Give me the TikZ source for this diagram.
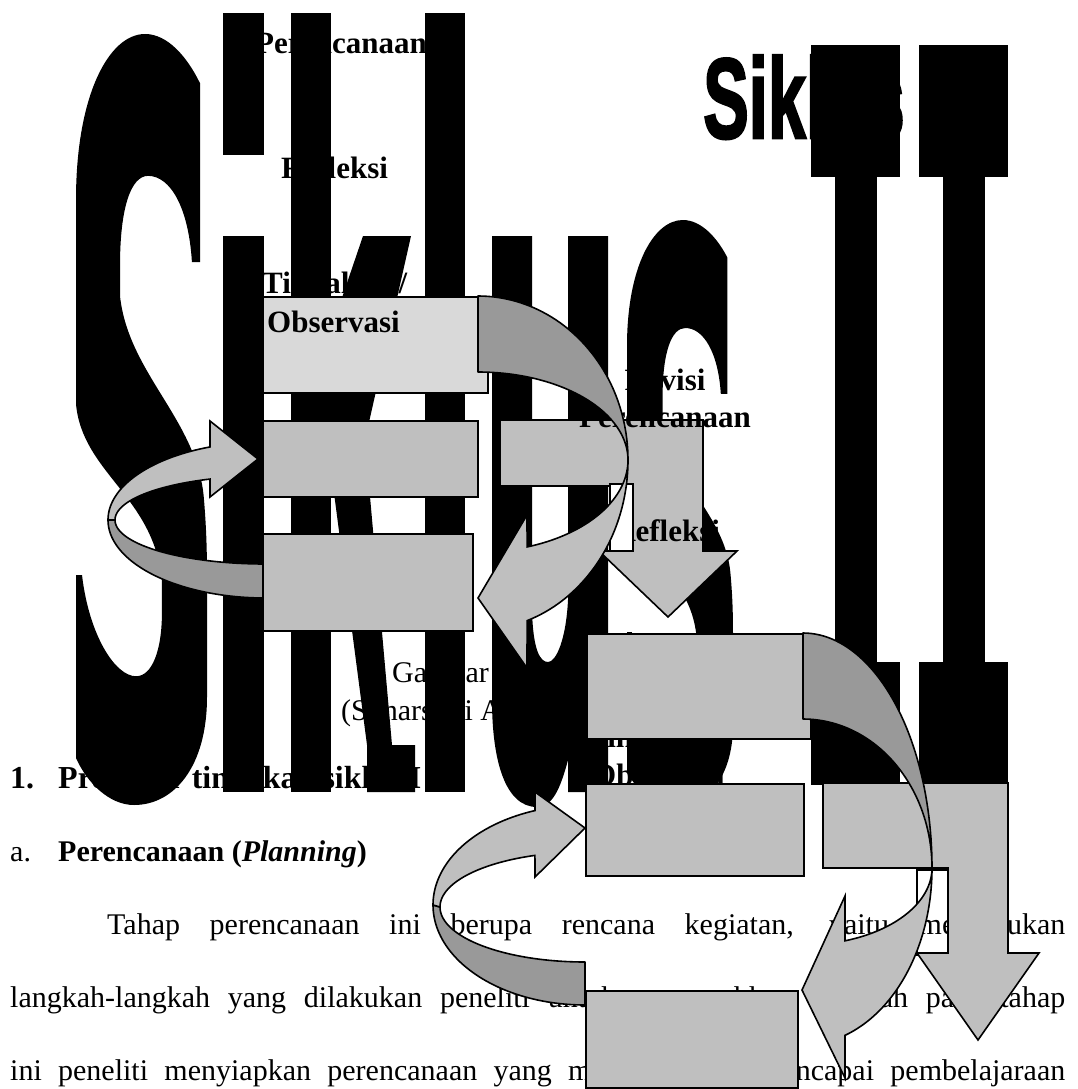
\documentclass[tikz,border=0pt]{standalone}
\usepackage{fontspec}
\setmainfont{Liberation Serif}
\newfontfamily\artfont{Liberation Sans}[FakeBold=2.5]
\definecolor{boxlight}{gray}{0.85}
\definecolor{boxmid}{gray}{0.75}
\definecolor{banddark}{gray}{0.6}
\begin{document}
\begin{tikzpicture}[x=1pt,y=-1pt,
  greybox/.style={fill=boxmid,draw=black,line width=1.6pt},
  lightbox/.style={fill=boxlight,draw=black,line width=1.6pt},
  bandback/.style={fill=banddark,draw=black,line width=1.6pt,line join=round},
  bandfront/.style={fill=boxmid,draw=black,line width=1.6pt},
  bentarrow/.style={fill=boxmid,draw=black,line width=1.6pt},
  textbox/.style={fill=white,draw=black,line width=1.6pt},
  lbl/.style={anchor=base west,inner sep=0pt,font=\fontsize{31}{37}\selectfont\bfseries},
  lblc/.style={anchor=base,inner sep=0pt,font=\fontsize{31}{37}\selectfont\bfseries},
  bodytext/.style={anchor=base west,inner sep=0pt,font=\fontsize{30}{36}\selectfont},
  headtext/.style={anchor=base west,inner sep=0pt,font=\fontsize{30}{36}\selectfont\bfseries},
  headbig/.style={anchor=base west,inner sep=0pt,font=\fontsize{32}{38}\selectfont\bfseries}
]
\useasboundingbox (0,0) rectangle (1078,1089);
\fill[white] (0,0) rectangle (1078,1089);

% hidden text box of the second Refleksi
\path[textbox] (917,870) rectangle (948,955);

% ---------- black WordArt shapes ----------
% big S
\begin{scope}[shift={(76,34)},xscale=131,yscale=771]
\fill (0.947,0.064) -- (0.947,0.296) -- (0.885,0.296)
 .. controls (0.86,0.225) and (0.72,0.184) .. (0.55,0.184)
 .. controls (0.42,0.184) and (0.336,0.225) .. (0.336,0.30)
 -- (0.336,0.34)
 .. controls (0.40,0.44) and (0.92,0.50) .. (0.975,0.60)
 .. controls (1.0,0.65) and (1.0,0.68) .. (1.0,0.72)
 -- (1.0,0.86)
 .. controls (1.0,0.95) and (0.75,1.0) .. (0.443,1.0)
 .. controls (0.25,1.0) and (0.08,0.97) .. (0,0.939)
 -- (0,0.702) -- (0.046,0.702)
 .. controls (0.10,0.78) and (0.30,0.833) .. (0.458,0.833)
 .. controls (0.58,0.833) and (0.656,0.80) .. (0.656,0.75)
 -- (0.656,0.71)
 .. controls (0.60,0.60) and (0.05,0.57) .. (0.0,0.48)
 -- (0,0.215)
 .. controls (0,0.08) and (0.25,0) .. (0.527,0)
 .. controls (0.70,0) and (0.85,0.03) .. (0.947,0.064) -- cycle;
\end{scope}
% small s
\begin{scope}[shift={(627,220)},xscale=106,yscale=587]
\fill (0.947,0.064) -- (0.947,0.296) -- (0.885,0.296)
 .. controls (0.86,0.225) and (0.72,0.184) .. (0.55,0.184)
 .. controls (0.42,0.184) and (0.336,0.225) .. (0.336,0.30)
 -- (0.336,0.34)
 .. controls (0.40,0.44) and (0.92,0.50) .. (0.975,0.60)
 .. controls (1.0,0.65) and (1.0,0.68) .. (1.0,0.72)
 -- (1.0,0.86)
 .. controls (1.0,0.95) and (0.75,1.0) .. (0.443,1.0)
 .. controls (0.25,1.0) and (0.08,0.97) .. (0,0.939)
 -- (0,0.702) -- (0.046,0.702)
 .. controls (0.10,0.78) and (0.30,0.833) .. (0.458,0.833)
 .. controls (0.58,0.833) and (0.656,0.80) .. (0.656,0.75)
 -- (0.656,0.71)
 .. controls (0.60,0.60) and (0.05,0.57) .. (0.0,0.48)
 -- (0,0.215)
 .. controls (0,0.08) and (0.25,0) .. (0.527,0)
 .. controls (0.70,0) and (0.85,0.03) .. (0.947,0.064) -- cycle;
\end{scope}
% i
\fill (223,13) rectangle (264,155);
\fill (223,236) rectangle (264,792);
% k
\fill (291,13) rectangle (331,792);
\fill (363,236) -- (411,236) -- (365,440) -- (392,745) -- (415,745) -- (415,792)
  -- (367,792) -- (367,745) -- (331,470) -- (331,330) -- cycle;
% l
\fill (425,13) rectangle (465,792);
% u
\fill (492,236) -- (532,236) -- (532,610)
  .. controls (533,650) and (540,662) .. (548,662)
  .. controls (556,662) and (566,640) .. (568,600)
  -- (568,236) -- (608,236) -- (608,792) -- (568,792) -- (568,760)
  .. controls (560,790) and (552,807) .. (537,807)
  .. controls (505,807) and (492,760) .. (492,700) -- cycle;

% ---------- Siklus II ----------
\node (siklus) [anchor=base west,inner sep=0pt] at (703,138)
  {\scalebox{0.6}[1]{\artfont\bfseries\fontsize{114}{114}\selectfont Siklus}};
\fill (811,45) rectangle (900,177);
\fill (835,177) rectangle (877,662);
\fill (811,662) rectangle (900,785);
\fill (919,45) rectangle (1008,177);
\fill (943,177) rectangle (985,662);
\fill (919,662) rectangle (1008,785);

% ---------- texts behind ----------
\node (pl1) [lbl] at (255,54) {Perencanaan};
\node (rf1) [lbl] at (281,178) {Refleksi};
\node (td1) [lbl] at (262,293) {Tindakan /};
\node (td2) [lbl] at (587,747) {Tindakan /};
\node (ob2) [lbl] at (592,785) {Observasi};
\node (cap1) [bodytext] at (392,682) {Gambar};
\node (cap2) [bodytext] at (341,720) {(Suharsimi A};

\node (n1) [headbig] at (10,788) {1.};
\node (h1) [headbig] at (58,788) {Prosedur tindakan siklus I};
\node (n2) [bodytext] at (10,861) {a.};
\node (h2) [headtext] at (58,861) {Perencanaan (\textit{Planning})};
\node (p1) [bodytext] at (107,934) {\makebox[958pt][s]{Tahap perencanaan ini berupa rencana kegiatan, yaitu menentukan}};
\node (p2) [bodytext] at (10,1007) {\makebox[1055pt][s]{langkah-langkah yang dilakukan peneliti untuk memecahkan masalah pada tahap}};
\node (p3) [bodytext] at (10,1080) {\makebox[1055pt][s]{ini peneliti menyiapkan perencanaan yang mampu untuk mencapai pembelajaraan}};

% ---------- cycle 1 ----------
\path[bandback] plot[domain=180:90,samples=50] ({265+157*cos(\x)},{520+78*sin(\x)})
  -- plot[domain=90:180,samples=50] ({265+150*cos(\x)},{520+44*sin(\x)}) -- cycle;
\path[bandfront] plot[domain=180:249.5,samples=50] ({265+157*cos(\x)},{520+78*sin(\x)})
  -- (210,421) -- (258,459) -- (210,497)
  -- plot[domain=248.5:180,samples=50] ({265+150*cos(\x)},{520+44*sin(\x)}) -- cycle;
\node (b1) [lightbox,minimum width=225pt,minimum height=96pt,anchor=north west,inner sep=0pt] at (262,296) {};
\node (b2) [greybox,minimum width=215pt,minimum height=76pt,anchor=north west,inner sep=0pt] at (262,420) {};
\node (b3) [greybox,minimum width=210pt,minimum height=97pt,anchor=north west,inner sep=0pt] at (262,533) {};
\node (ob1) [lbl] at (267,332) {Observasi};
\path[bentarrow] (500,420) -- (703,420) -- (703,551) -- (737,551) -- (668,617)
  -- (599,551) -- (633,551) -- (633,486) -- (500,486) -- cycle;
\node (rv1) [lblc] at (665,390) {Revisi};
\node (rp1) [lblc] at (665,427) {Perencanaan};
\node (rf2) [lbl] at (613,541) {Refleksi};
\path[textbox] (610,484) rectangle (633,551);
\path[bandback] plot[domain=-90:0,samples=50] ({478+150*cos(\x)},{460+164*sin(\x)})
  -- plot[domain=0:-90,samples=50] ({478+150*cos(\x)},{460+88*sin(\x)}) -- cycle;
\path[bandfront] plot[domain=0:70.9,samples=50] ({478+150*cos(\x)},{460+170*sin(\x)})
  -- (527,668) -- (478,598) -- (527,515)
  -- plot[domain=70.9:0,samples=50] ({478+150*cos(\x)},{460+92*sin(\x)}) -- cycle;

% ---------- cycle 2 ----------
\path[bandback] plot[domain=180:90,samples=50] ({585+152*cos(\x)},{905+100*sin(\x)})
  -- plot[domain=90:180,samples=50] ({585+145*cos(\x)},{907+55*sin(\x)}) -- cycle;
\path[bandfront] plot[domain=180:250.8,samples=50] ({585+152*cos(\x)},{905+100*sin(\x)})
  -- (535,792) -- (585,828) -- (535,877)
  -- plot[domain=249.8:180,samples=50] ({585+145*cos(\x)},{907+55*sin(\x)}) -- cycle;
\node (b4) [greybox,minimum width=224pt,minimum height=105pt,anchor=north west,inner sep=0pt] at (586,633) {};
\node (b5) [greybox,minimum width=218pt,minimum height=92pt,anchor=north west,inner sep=0pt] at (585,783) {};
\node (b6) [greybox,minimum width=212pt,minimum height=97pt,anchor=north west,inner sep=0pt] at (585,990) {};
\path[bentarrow] (823,783) -- (1008,783) -- (1008,953) -- (1039,953) -- (978,1040)
  -- (917,953) -- (948,953) -- (948,868) -- (823,868) -- cycle;
\path[bandback] plot[domain=-90:0,samples=50] ({803+129*cos(\x)},{868+235*sin(\x)})
  -- plot[domain=0:-90,samples=50] ({803+129*cos(\x)},{868+149*sin(\x)}) -- cycle;
\path[bandfront] plot[domain=0:71,samples=50] ({803+129*cos(\x)},{868+177*sin(\x)})
  -- (845,1078) -- (802,990) -- (845,896)
  -- plot[domain=71:0,samples=50] ({803+129*cos(\x)},{868+77*sin(\x)}) -- cycle;
\end{tikzpicture}
\end{document}
